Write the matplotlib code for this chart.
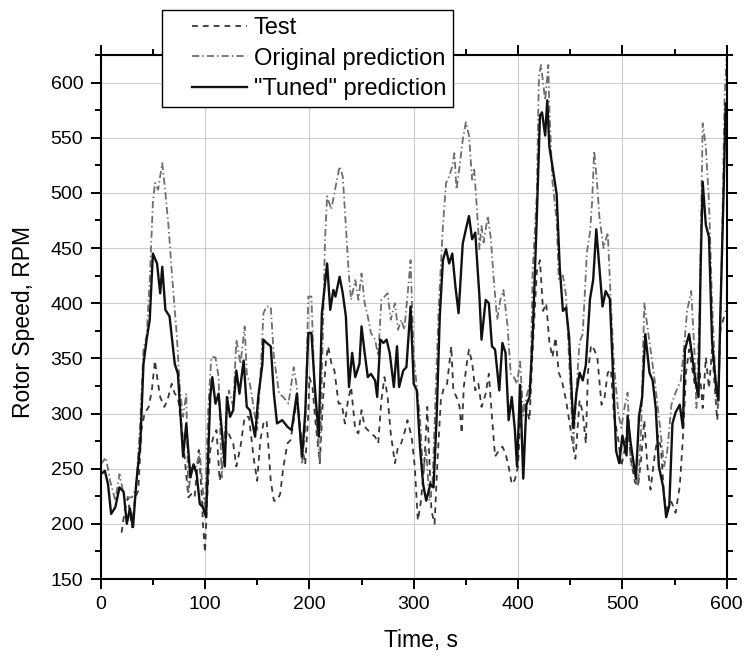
import numpy as np
import matplotlib
matplotlib.use("Agg")
import matplotlib.pyplot as plt
from matplotlib.legend_handler import HandlerLine2D
from matplotlib.ticker import MultipleLocator

plt.rcParams['font.family'] = ['Liberation Sans', 'DejaVu Sans']

# values, (time s, rpm)
test_pts = [(20,192),(23,212),(26,224),(30,197),(33,224),(36,230),(39,285),(42,300),(46,306),(49,321),
    (52,348),(55,327),(57,315),(61,306),(64,312),(68,327),(71,318),(74,315),(78,285),(81,254),(84,224),
    (87,227),(90,224),(94,267),(97,224),(98,200),(100,174),(102,224),(105,267),(108,279),(111,285),
    (114,239),(118,261),(121,285),(124,279),(127,273),(130,252),(134,270),(138,297),(142,297),(147,257),
    (150,239),(153,276),(156,291),(159,294),(163,239),(166,221),(169,221),(172,227),(175,251),(179,273),
    (182,276),(187,306),(190,300),(193,270),(196,254),(199,300),
    (200,333),(203,324),(206,291),(210,255),(213,312),(216,349),(218,361),(221,346),(224,339),(228,309),
    (231,309),(234,291),(237,312),(240,324),(244,285),(247,282),(250,303),(253,288),(256,285),(259,282),
    (263,279),(266,273),(269,312),(272,333),(275,315),(278,282),(282,255),(285,270),(288,273),(291,282),
    (294,294),(298,279),(301,252),(304,203),(307,221),(310,252),(313,306),(317,212),(320,200),(323,261),
    (326,312),(329,324),(332,327),(336,361),(338,321),(341,315),(344,306),(346,282),(348,324),(351,346),
    (353,358),(356,346),(359,321),(362,327),(365,306),(369,318),(372,336),(375,297),(378,261),(382,267),
    (385,270),(388,264),(391,252),(394,236),(397,240),
    (400,252),(403,312),(408,305),(411,294),(414,358),(418,429),(421,439),(424,393),(427,400),(430,365),
    (433,351),(436,369),(439,337),(442,330),(446,312),(449,294),(453,269),(455,259),(459,312),(462,301),
    (465,273),(467,337),(470,362),(473,358),(476,351),(480,308),(483,315),(486,337),(489,340),(492,298),
    (496,277),(499,252),(502,266),(505,291),(508,259),(512,238),(515,234),(518,259),(521,294),(524,252),
    (527,231),(531,262),(534,280),(537,269),(540,224),(543,213),(547,220),(551,210),(555,234),(558,277),
    (561,337),(564,358),(567,340),(570,323),(574,340),(577,305),(580,351),(583,323),(586,358),(590,305),
    (591,294),(594,376),(597,386),(599,393)]

orig_pts = [(0,254),(5,260),(9,239),(14,221),(18,245),(22,227),(26,224),(30,224),(34,233),(38,294),
    (41,358),(44,370),(47,421),(50,491),(52,509),(55,503),(59,527),(62,500),(65,470),(68,430),(73,370),
    (76,321),(79,297),(82,318),(84,227),(87,251),(91,251),(95,264),(97,239),(100,212),(103,303),(106,351),
    (110,351),(113,333),(116,242),(119,285),(123,321),(127,306),(130,367),(134,345),(138,379),(140,336),
    (143,327),(147,303),(150,285),(153,333),(156,391),(159,397),(163,397),(166,351),(171,318),(175,315),
    (180,309),(185,342),(188,324),(193,254),(196,285),(199,406),
    (202,406),(205,318),(210,255),(213,373),(215,458),(217,497),(221,485),(224,500),(229,524),(232,515),
    (236,455),(238,424),(240,403),(244,421),(247,403),(250,427),(253,400),(256,388),(259,373),(263,367),
    (266,352),(269,403),(272,406),(275,409),(278,385),(282,400),(285,376),(288,385),(291,376),(294,406),
    (297,439),(300,352),(303,324),(306,297),(309,245),(312,267),(315,221),(318,236),(321,318),(324,397),
    (328,470),(331,509),(334,515),(337,524),(339,536),(341,503),(344,524),(347,548),(350,564),(353,552),
    (356,512),(358,521),(360,494),(363,449),(365,470),(367,455),(371,479),(374,458),(377,418),(380,385),
    (383,403),(386,412),(390,379),(393,336),(396,333),(399,327),
    (402,347),(405,298),(408,315),(412,330),(414,429),(418,499),(420,605),(422,616),(426,584),(429,616),
    (430,577),(433,510),(437,475),(439,422),(443,425),(446,407),(449,347),(453,269),(456,323),(459,365),
    (462,372),(466,446),(469,464),(471,492),(473,538),(476,506),(478,478),(482,450),(486,464),(489,400),
    (492,344),(496,301),(499,287),(502,305),(505,319),(508,255),(512,248),(515,234),(518,287),(521,400),
    (524,379),(527,358),(531,330),(534,305),(537,280),(540,252),(543,266),(547,308),(551,319),(556,330),
    (559,358),(562,393),(566,411),(569,358),(571,305),(574,393),(577,563),(580,542),(583,492),(586,400),
    (590,312),(592,305),(595,429),(598,588),(600,623)]

tuned_pts = [(0,245),(4,248),(7,236),(10,209),(14,215),(18,233),(22,229),(25,200),(28,214),(31,197),
    (34,236),(38,273),(41,345),(44,367),(47,385),(50,445),(54,436),(57,409),(59,433),(62,394),(66,388),
    (71,345),(74,336),(79,261),(82,291),(86,242),(89,254),(92,245),(95,218),(98,215),(101,206),(105,315),
    (107,333),(110,309),(113,318),(116,285),(119,252),(121,315),(124,297),(127,303),(130,339),(133,318),
    (137,348),(140,306),(143,303),(148,279),(151,315),(155,345),(156,367),(159,364),(163,361),(166,318),
    (169,291),(174,294),(179,288),(183,285),(188,318),(193,261),(196,300),(199,373),
    (202,373),(205,327),(209,279),(212,391),(217,436),(220,394),(223,412),(225,406),(229,424),(232,409),
    (235,388),(238,324),(241,355),(244,333),(248,345),(250,379),(253,355),(256,333),(259,336),(263,330),
    (265,315),(268,367),(271,364),(274,367),(277,355),(281,324),(284,361),(286,324),(290,339),(293,342),
    (297,397),(300,327),(303,321),(306,270),(309,236),(312,221),(316,236),(319,233),(322,297),(325,388),
    (328,439),(331,449),(334,436),(337,445),(340,415),(343,391),(347,454),(350,467),(353,479),(356,458),
    (359,464),(363,406),(365,367),(369,403),(372,400),(375,361),(378,358),(382,321),(385,364),(388,355),
    (391,294),(394,315),(397,285),(399,252),
    (402,326),(405,241),(408,308),(411,315),(414,369),(418,478),(421,570),(423,573),(426,552),(428,584),
    (430,542),(433,524),(437,499),(440,432),(443,393),(446,396),(449,369),(453,287),(456,319),(459,337),
    (462,330),(465,344),(469,404),(472,421),(475,467),(478,432),(481,397),(484,411),(488,404),(491,337),
    (494,266),(497,255),(500,280),(504,262),(505,298),(508,273),(513,241),(516,298),(519,315),(522,372),
    (526,337),(529,330),(532,305),(535,252),(539,234),(542,206),(545,217),(548,291),(551,301),(555,308),
    (558,287),(560,358),(564,372),(567,351),(570,330),(573,315),(575,432),(577,510),(580,471),(583,460),
    (586,365),(590,323),(592,312),(594,393),(597,499),(599,581)]

labels = ["Test", "Original prediction", "\"Tuned\" prediction"]

test_t, test_v = np.array(test_pts).T
orig_t, orig_v = np.array(orig_pts).T
tuned_t, tuned_v = np.array(tuned_pts).T

fig = plt.figure(figsize=(7.53, 6.56), dpi=100)
ax = fig.add_axes([100.7 / 753, 1 - 579 / 656, 626 / 753, 524 / 656])

l1, = ax.plot(test_t, test_v, color="#383838", lw=1.3, linestyle=(0, (3.2, 2.8)))
l2, = ax.plot(orig_t, orig_v, color="#6e6e6e", lw=1.3, linestyle=(0, (4.0, 1.7, 0.8, 1.7)))
l3, = ax.plot(tuned_t, tuned_v, color="#111111", lw=1.7)

ax.set_xlim(0, 600)
ax.set_ylim(150, 625)
ax.xaxis.set_major_locator(MultipleLocator(100))
ax.xaxis.set_minor_locator(MultipleLocator(50))
ax.yaxis.set_major_locator(MultipleLocator(50))
ax.yaxis.set_minor_locator(MultipleLocator(25))
ax.grid(True, which="major", color="#cccccc", lw=0.8)
ax.set_axisbelow(True)

ax.tick_params(which="both", direction="out", top=True, right=True, width=1.4,
               labelsize=14, pad=5.5)
ax.tick_params(which="major", length=7)
ax.tick_params(which="minor", length=4)
for s in ax.spines.values():
    s.set_linewidth(1.5)

ax.set_xlabel("Time, s", fontsize=16.5)
ax.set_ylabel("Rotor Speed, RPM", fontsize=16.5)
ax.xaxis.set_label_coords((421.5 - 100.7) / 626, -0.095)
ax.yaxis.set_label_coords(-0.105, 0.49)

hm = {l: HandlerLine2D(xpad=1.0) for l in (l1, l2, l3)}
leg = fig.legend([l1, l2, l3], labels, loc="upper left",
                 bbox_to_anchor=(161.7 / 753, 1 - 10 / 656), bbox_transform=fig.transFigure,
                 borderaxespad=0, fontsize=17, handlelength=3.3, handletextpad=0.3,
                 labelspacing=0.36, borderpad=0.3, fancybox=False, framealpha=1,
                 edgecolor="black", handler_map=hm)
leg.get_frame().set_linewidth(1.0)

fig.savefig("out.png", dpi=100)
